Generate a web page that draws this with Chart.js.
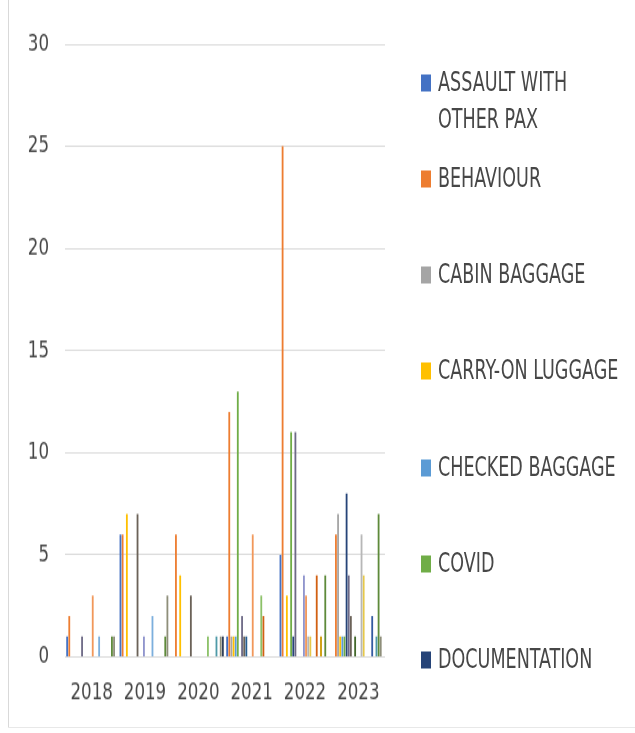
<!DOCTYPE html>
<html>
<head>
<meta charset="utf-8">
<script src="https://cdn.jsdelivr.net/npm/chart.js@4/dist/chart.umd.min.js"></script>
<style>
  html, body { margin: 0; padding: 0; background: #fff; }
  #wrap { position: relative; width: 635px; height: 733px; overflow: hidden; }
  #cw { position: absolute; left: 0; top: 0; width: 635px; height: 564px;
        transform: scaleY(1.2996); transform-origin: 0 0; }
  #frameL { position: absolute; left: 8px; top: 0; width: 1px; height: 728px; background: #d9d9d9; }
  #frameB { position: absolute; left: 8px; top: 727px; width: 627px; height: 1px; background: #e8e8e8; }
  .ln { position: absolute; left: 438px; white-space: nowrap; line-height: 1;
        font-family: "DejaVu Sans Condensed", "DejaVu Sans", sans-serif; font-size: 19.5px; color: #474747;
        transform: translateY(-50%) scaleY(1.32); transform-origin: 0 50%; }
  .sw { position: absolute; left: 421px; width: 10px; height: 17px; transform: translateY(-50%); }
</style>
</head>
<body>
<div id="wrap">
  <div id="cw"><canvas id="c" width="635" height="564"></canvas></div>
  <div id="frameL"></div>
  <div id="frameB"></div>
  <div id="legend"></div>
</div>
<script>
// Categories
const years = ['2018', '2019', '2020', '2021', '2022', '2023'];
const yTicks = [0, 5, 10, 15, 20, 25, 30];

// Series shown in the legend
const assaultWithOtherPax = [1, 6, 0, 1, 5, 0];
const behaviour           = [2, 6, 6, 12, 25, 6];
const cabinBaggage        = [0, 0, 0, 1, 0, 7];
const carryOnLuggage      = [0, 7, 4, 1, 3, 1];
const checkedBaggage      = [0, 0, 0, 1, 0, 1];
const covid               = [0, 0, 0, 13, 11, 1];
const documentation       = [0, 0, 0, 0, 1, 8];

// Further series (legend cut off in the original)
const series08 = [1, 0, 0, 2, 11, 4];
const series09 = [0, 7, 3, 1, 0, 2];
const series10 = [0, 0, 0, 1, 0, 0];
const series11 = [0, 0, 0, 0, 0, 1];
const series12 = [0, 1, 0, 0, 4, 0];
const series13 = [3, 0, 0, 6, 3, 0];
const series14 = [0, 0, 0, 0, 1, 6];
const series15 = [0, 0, 0, 0, 1, 4];
const series16 = [1, 2, 0, 0, 0, 0];
const series17 = [0, 0, 1, 3, 0, 0];
const series18 = [0, 0, 0, 2, 4, 0];
const series19 = [0, 0, 0, 0, 0, 2];
const series20 = [0, 0, 0, 0, 1, 0];
const series21 = [0, 0, 1, 0, 0, 1];
const series22 = [1, 1, 0, 0, 4, 7];
const series23 = [1, 3, 1, 0, 0, 1];
const series24 = [0, 0, 1, 0, 0, 0];

const legendNames = ['ASSAULT WITH OTHER PAX', 'BEHAVIOUR', 'CABIN BAGGAGE', 'CARRY-ON LUGGAGE',
                     'CHECKED BAGGAGE', 'COVID', 'DOCUMENTATION'];

const seriesValues = [assaultWithOtherPax, behaviour, cabinBaggage, carryOnLuggage, checkedBaggage,
  covid, documentation, series08, series09, series10, series11, series12, series13, series14,
  series15, series16, series17, series18, series19, series20, series21, series22, series23, series24];

const colors = ['#4472C4', '#ED7D31', '#A5A5A5', '#FFC000', '#5B9BD5', '#70AD47', '#264478',
  '#6E6A86', '#6B6258', '#255E91', '#43682B', '#8E93CC', '#F1975A', '#B7B7B7', '#E6C84A',
  '#7CAFDD', '#8CC168', '#D26012', '#335AA1', '#CC9A00', '#4F9AA8', '#5E8A3A', '#8E8E7A', '#2F3F5A'];

const datasets = seriesValues.map((vals, i) => ({
  label: i < legendNames.length ? legendNames[i] : 'Series ' + (i + 1),
  data: vals.map(v => v === 0 ? null : v),
  backgroundColor: colors[i],
  borderWidth: 0,
  categoryPercentage: 0.96,
  barPercentage: 0.85
}));

const tickFont = { family: '"DejaVu Sans Condensed", "DejaVu Sans", sans-serif', size: 18.5 };

new Chart(document.getElementById('c'), {
  type: 'bar',
  data: { labels: years, datasets },
  options: {
    responsive: false,
    animation: false,
    layout: { padding: { left: 8, top: 34, right: 250, bottom: 23.5 } },
    plugins: { legend: { display: false }, tooltip: { enabled: false } },
    scales: {
      x: {
        grid: { display: false, drawTicks: false },
        border: { display: false },
        ticks: { color: '#474747', font: tickFont, padding: 17, maxRotation: 0, autoSkip: false },
        afterFit: s => { s.height = 35; }
      },
      y: {
        min: 0, max: 30,
        afterBuildTicks: s => { s.ticks = yTicks.map(v => ({ value: v })); },
        grid: { color: '#D9D9D9', drawTicks: false, lineWidth: 1 },
        border: { display: false },
        ticks: { color: '#474747', font: tickFont, padding: 16 },
        afterFit: s => { s.width = 57; }
      }
    }
  }
});

// HTML legend (first seven series, as in the original)
const leg = document.getElementById('legend');
const legendLines = [['ASSAULT WITH', 'OTHER PAX'], ['BEHAVIOUR'], ['CABIN BAGGAGE'], ['CARRY-ON LUGGAGE'],
                     ['CHECKED BAGGAGE'], ['COVID'], ['DOCUMENTATION']];
legendLines.forEach((lines, i) => {
  const cy = 82.5 + i * 96.3;
  const sw = document.createElement('div');
  sw.className = 'sw';
  sw.style.top = cy + 'px';
  sw.style.background = colors[i];
  leg.appendChild(sw);
  lines.forEach((t, j) => {
    const d = document.createElement('div');
    d.className = 'ln';
    d.style.top = (cy + j * 37.5) + 'px';
    d.textContent = t;
    leg.appendChild(d);
  });
});
</script>
</body>
</html>
